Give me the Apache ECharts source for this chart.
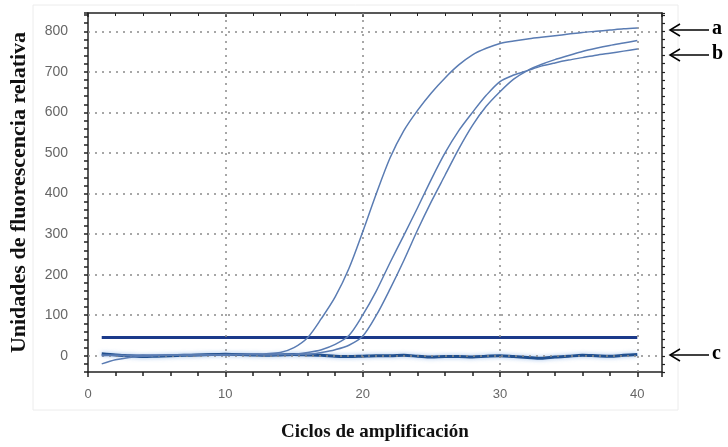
<!DOCTYPE html>
<html>
<head>
<meta charset="utf-8">
<title>Curvas de amplificación</title>
<script src="https://cdn.jsdelivr.net/npm/echarts@6/dist/echarts.min.js"></script>
<style>
  html, body { margin: 0; padding: 0; background: #fff; }
  #chart { width: 728px; height: 447px; }
</style>
</head>
<body>
<div id="chart"></div>
<script>
// ciclos 1..40
const cycles = [1, 2, 3, 4, 5, 6, 7, 8, 9, 10, 11, 12, 13, 14, 15, 16, 17, 18, 19, 20,
  21, 22, 23, 24, 25, 26, 27, 28, 29, 30, 31, 32, 33, 34, 35, 36, 37, 38, 39, 40];

// curva a
const curveA = [0, 1, 1, 2, 1, 2, 2, 3, 2, 3, 3, 4, 5, 8, 20, 45, 92, 145, 215, 305,
  400, 488, 555, 605, 648, 685, 717, 742, 758, 770, 776, 781, 785, 789, 793, 797, 800, 803, 806, 808];
// curvas b
const curveB1 = [-20, -10, -4, -1, 0, 1, 1, 2, 2, 2, 3, 3, 3, 3, 4, 8, 15, 28, 50, 100,
  160, 230, 297, 365, 435, 500, 555, 600, 642, 676, 692, 703, 714, 722, 729, 735, 741, 746, 751, 756];
const curveB2 = [2, 1, 0, 1, 1, 2, 2, 2, 3, 2, 3, 3, 2, 3, 3, 3, 8, 15, 26, 48,
  100, 165, 235, 310, 380, 445, 510, 568, 615, 651, 682, 703, 718, 730, 740, 750, 758, 765, 771, 777];
// curva c (negativo)
const curveC = [5, 2, 0, -2, -1, 0, 1, 2, 3, 4, 3, 2, 1, 2, 3, 2, 1, -1, -2, -1,
  0, 0, 1, -1, -3, -2, -2, -3, -1, 0, -2, -4, -6, -3, -1, 1, 0, -1, 1, 3];
// umbral
const threshold = 45;

const yTickLabels = [0, 100, 200, 300, 400, 500, 600, 700, 800];
const xTickLabels = [0, 10, 20, 30, 40];

const toPairs = (vals) => cycles.map((c, i) => [c, vals[i]]);

const chart = echarts.init(document.getElementById('chart'));

const curveStyle = {
  color: '#5a7cb3',
  width: 1.5
};

const frameLine = {onZero: false, lineStyle: {color: '#222', width: 1.5}};

const option = {
  backgroundColor: '#fff',
  animation: false,
  textStyle: {fontFamily: 'Liberation Sans'},
  grid: {left: 84, right: 66, top: 13, bottom: 74},
  xAxis: [
    {
      type: 'value',
      position: 'bottom',
      min: 0,
      max: 41.8,
      interval: 10,
      name: 'Ciclos de amplificación',
      nameLocation: 'middle',
      nameGap: 51,
      nameTextStyle: {
        fontFamily: 'Liberation Serif',
        fontWeight: 'bold',
        fontSize: 19,
        color: '#111'
      },
      axisLine: frameLine,
      axisTick: {length: 5, lineStyle: {color: '#222', width: 1.5}},
      minorTick: {show: true, splitNumber: 5, length: 4, lineStyle: {color: '#222', width: 1.5}},
      axisLabel: {
        color: '#666',
        fontSize: 13,
        margin: 16,
        formatter: v => xTickLabels.includes(v) ? String(v) : ''
      },
      splitLine: {show: false}
    },
    {
      type: 'value',
      position: 'top',
      min: 0,
      max: 41.8,
      interval: 10,
      axisLine: frameLine,
      axisTick: {inside: true, length: 4, lineStyle: {color: '#222', width: 1.5}},
      minorTick: {show: true, splitNumber: 5, length: 3, lineStyle: {color: '#222'}},
      axisLabel: {show: false},
      splitLine: {show: false}
    }
  ],
  yAxis: [
    {
      type: 'value',
      position: 'left',
      min: -40,
      max: 845,
      interval: 20,
      name: 'Unidades de fluorescencia relativa',
      nameLocation: 'middle',
      nameGap: 58,
      nameTextStyle: {
        fontFamily: 'Liberation Serif',
        fontWeight: 'bold',
        fontSize: 22,
        color: '#111'
      },
      axisLine: Object.assign({show: true}, frameLine),
      axisTick: {show: true, length: 4, lineStyle: {color: '#222', width: 1.5}},
      axisLabel: {
        color: '#666',
        fontSize: 14,
        margin: 20,
        formatter: v => yTickLabels.includes(v) ? String(v) : ''
      },
      splitLine: {show: false}
    },
    {
      type: 'value',
      position: 'right',
      min: -40,
      max: 845,
      interval: 20,
      axisLine: Object.assign({show: true}, frameLine),
      axisTick: {show: true, length: 3, lineStyle: {color: '#222', width: 1.2}},
      axisLabel: {show: false},
      splitLine: {show: false}
    }
  ],
  series: [
    {
      name: 'umbral',
      type: 'line',
      data: [[cycles[0], threshold], [cycles[cycles.length - 1], threshold]],
      symbol: 'none',
      lineStyle: {color: '#1b3a8a', width: 3},
      z: 3,
      markLine: {
        silent: true,
        symbol: ['none', 'none'],
        label: {show: false},
        lineStyle: {color: '#8a8a8a', type: [2, 5], width: 1.5},
        data: yTickLabels.map(v => ({yAxis: v}))
          .concat(xTickLabels.filter(v => v > 0).map(v => ({xAxis: v})))
      }
    },
    {
      name: 'c',
      type: 'line',
      data: toPairs(curveC),
      symbol: 'none',
      smooth: 0.3,
      lineStyle: {
        color: '#21508f',
        width: 3,
        shadowColor: 'rgba(110,160,225,0.7)',
        shadowBlur: 4
      },
      z: 4
    },
    {
      name: 'a',
      type: 'line',
      data: toPairs(curveA),
      symbol: 'none',
      smooth: 0.3,
      lineStyle: curveStyle,
      z: 5
    },
    {
      name: 'b1',
      type: 'line',
      data: toPairs(curveB1),
      symbol: 'none',
      smooth: 0.3,
      lineStyle: curveStyle,
      z: 5
    },
    {
      name: 'b2',
      type: 'line',
      data: toPairs(curveB2),
      symbol: 'none',
      smooth: 0.3,
      lineStyle: curveStyle,
      z: 5
    }
  ],
  graphic: [
    {
      type: 'rect',
      z: -10,
      shape: {x: 33, y: 5, width: 645, height: 405},
      style: {fill: 'none', stroke: '#ececec', lineWidth: 1}
    },
    // flechas a, b, c
    {type: 'line', shape: {x1: 670, y1: 30, x2: 709, y2: 30}, style: {stroke: '#000', lineWidth: 1.5}},
    {type: 'polyline', shape: {points: [[680, 24], [670, 30], [680, 36]]}, style: {stroke: '#000', lineWidth: 1.5, fill: 'none'}},
    {type: 'text', left: 712, top: 19, style: {text: 'a', font: 'bold 20px "Liberation Serif"', fill: '#000'}},
    {type: 'line', shape: {x1: 670, y1: 55, x2: 709, y2: 55}, style: {stroke: '#000', lineWidth: 1.5}},
    {type: 'polyline', shape: {points: [[680, 49], [670, 55], [680, 61]]}, style: {stroke: '#000', lineWidth: 1.5, fill: 'none'}},
    {type: 'text', left: 712, top: 44, style: {text: 'b', font: 'bold 20px "Liberation Serif"', fill: '#000'}},
    {type: 'line', shape: {x1: 670, y1: 355, x2: 709, y2: 355}, style: {stroke: '#000', lineWidth: 1.5}},
    {type: 'polyline', shape: {points: [[680, 349], [670, 355], [680, 361]]}, style: {stroke: '#000', lineWidth: 1.5, fill: 'none'}},
    {type: 'text', left: 712, top: 344, style: {text: 'c', font: 'bold 20px "Liberation Serif"', fill: '#000'}}
  ]
};

chart.setOption(option);
</script>
</body>
</html>
